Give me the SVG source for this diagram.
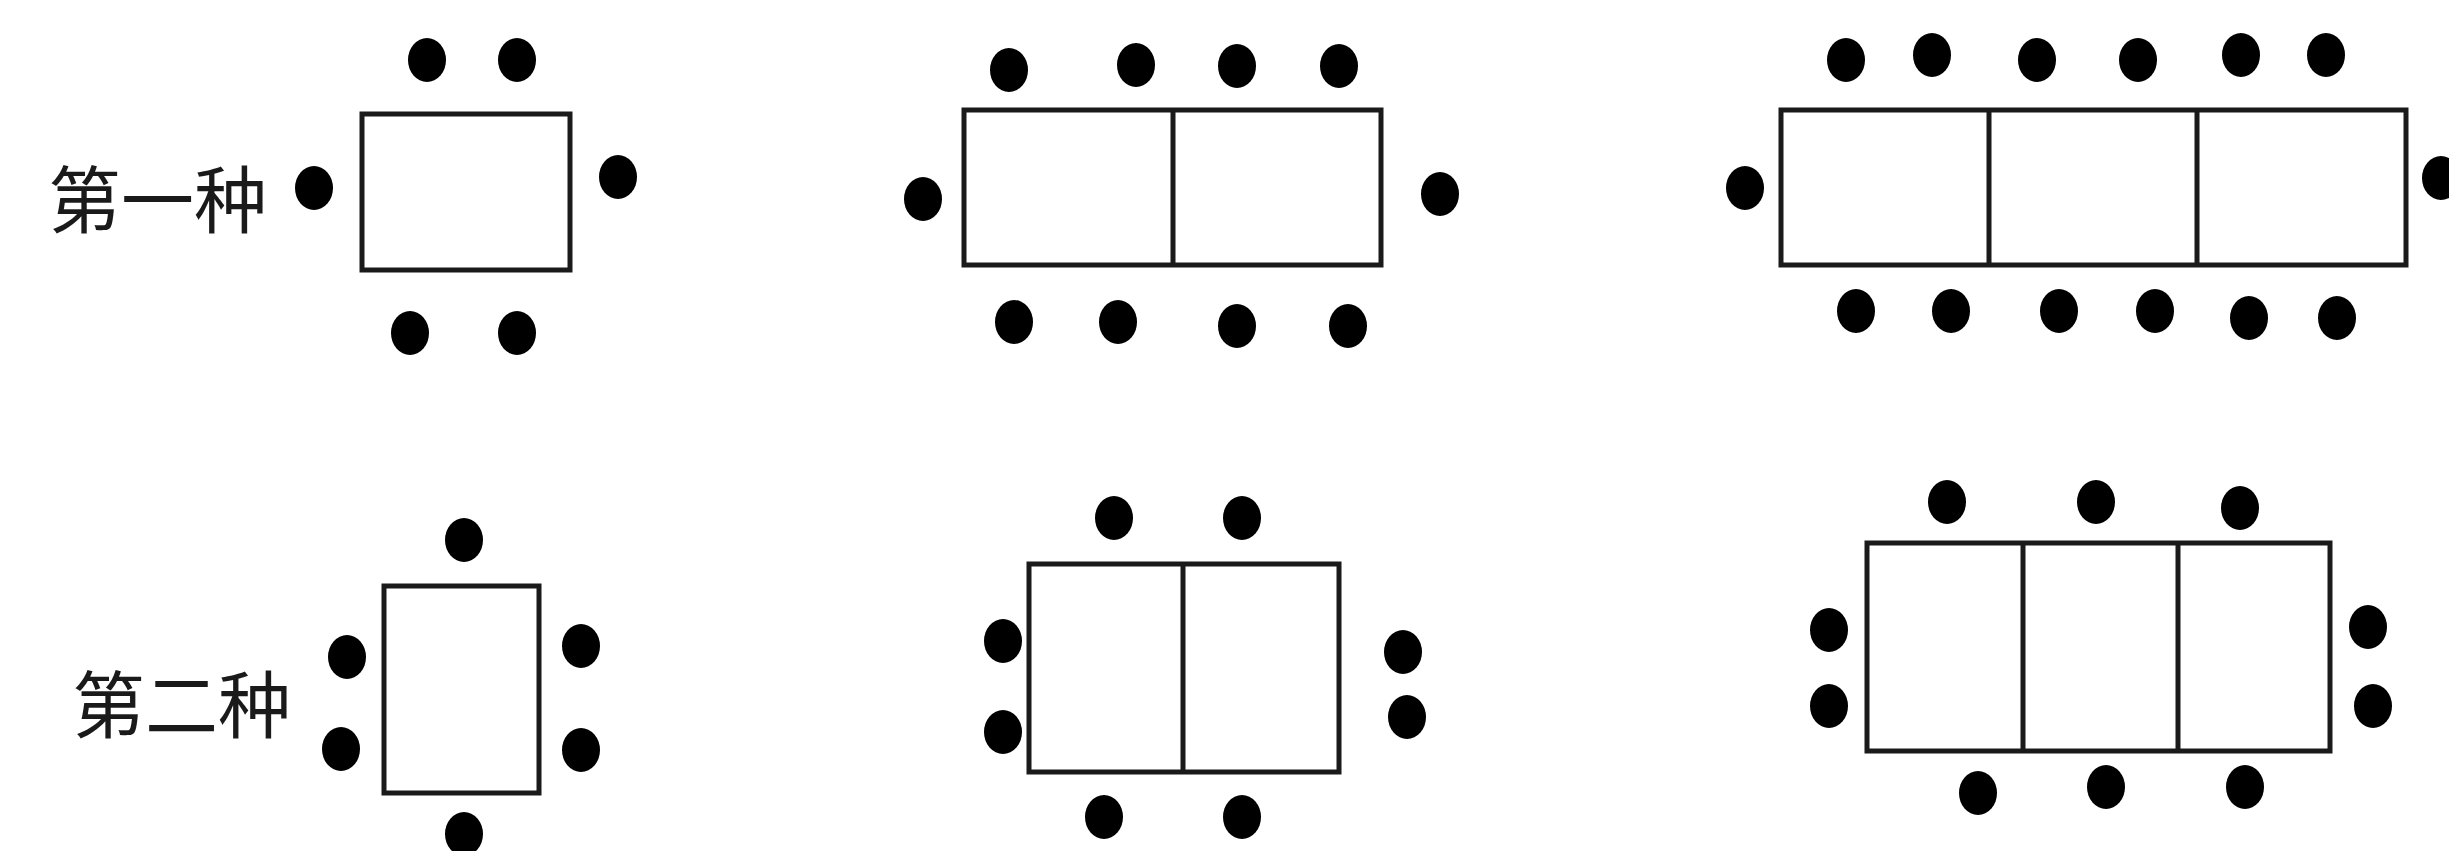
<svg xmlns="http://www.w3.org/2000/svg" width="2449" height="851" viewBox="0 0 2449 851">
<style>
.tbl{fill:#ffffff;stroke:#1a1a1a;stroke-width:5}
.div{stroke:#1a1a1a;stroke-width:5}
.seat{fill:#000000}
.lbl{font-family:"Noto Sans CJK SC","Noto Sans",sans-serif;font-size:73px;font-weight:400;fill:#1a1a1a}
</style>
<rect width="2449" height="851" fill="#ffffff"/>
<g id="label1"><text class="lbl" x="48" y="227">第一种</text></g>
<g id="label2"><text class="lbl" x="72" y="732">第二种</text></g>

<g id="table-r1-1">
<rect class="tbl" x="362" y="114" width="208" height="156"/>
<ellipse class="seat" cx="427" cy="60" rx="19" ry="22"/>
<ellipse class="seat" cx="517" cy="60" rx="19" ry="22"/>
<ellipse class="seat" cx="314" cy="188" rx="19" ry="22"/>
<ellipse class="seat" cx="618" cy="177" rx="19" ry="22"/>
<ellipse class="seat" cx="410" cy="333" rx="19" ry="22"/>
<ellipse class="seat" cx="517" cy="333" rx="19" ry="22"/>
</g>

<g id="table-r1-2">
<rect class="tbl" x="964" y="110" width="417" height="155"/>
<line class="div" x1="1173" y1="110" x2="1173" y2="265"/>
<ellipse class="seat" cx="1009" cy="70" rx="19" ry="22"/>
<ellipse class="seat" cx="1136" cy="65" rx="19" ry="22"/>
<ellipse class="seat" cx="1237" cy="66" rx="19" ry="22"/>
<ellipse class="seat" cx="1339" cy="66" rx="19" ry="22"/>
<ellipse class="seat" cx="923" cy="199" rx="19" ry="22"/>
<ellipse class="seat" cx="1440" cy="194" rx="19" ry="22"/>
<ellipse class="seat" cx="1014" cy="322" rx="19" ry="22"/>
<ellipse class="seat" cx="1118" cy="322" rx="19" ry="22"/>
<ellipse class="seat" cx="1237" cy="326" rx="19" ry="22"/>
<ellipse class="seat" cx="1348" cy="326" rx="19" ry="22"/>
</g>

<g id="table-r1-3">
<rect class="tbl" x="1781" y="110" width="625" height="155"/>
<line class="div" x1="1989" y1="110" x2="1989" y2="265"/>
<line class="div" x1="2197" y1="110" x2="2197" y2="265"/>
<ellipse class="seat" cx="1846" cy="60" rx="19" ry="22"/>
<ellipse class="seat" cx="1932" cy="55" rx="19" ry="22"/>
<ellipse class="seat" cx="2037" cy="60" rx="19" ry="22"/>
<ellipse class="seat" cx="2138" cy="60" rx="19" ry="22"/>
<ellipse class="seat" cx="2241" cy="55" rx="19" ry="22"/>
<ellipse class="seat" cx="2326" cy="55" rx="19" ry="22"/>
<ellipse class="seat" cx="1745" cy="188" rx="19" ry="22"/>
<ellipse class="seat" cx="2441" cy="178" rx="19" ry="22"/>
<ellipse class="seat" cx="1856" cy="311" rx="19" ry="22"/>
<ellipse class="seat" cx="1951" cy="311" rx="19" ry="22"/>
<ellipse class="seat" cx="2059" cy="311" rx="19" ry="22"/>
<ellipse class="seat" cx="2155" cy="311" rx="19" ry="22"/>
<ellipse class="seat" cx="2249" cy="318" rx="19" ry="22"/>
<ellipse class="seat" cx="2337" cy="318" rx="19" ry="22"/>
</g>

<g id="table-r2-1">
<rect class="tbl" x="384" y="586" width="155" height="207"/>
<ellipse class="seat" cx="464" cy="540" rx="19" ry="22"/>
<ellipse class="seat" cx="347" cy="657" rx="19" ry="22"/>
<ellipse class="seat" cx="341" cy="749" rx="19" ry="22"/>
<ellipse class="seat" cx="581" cy="646" rx="19" ry="22"/>
<ellipse class="seat" cx="581" cy="750" rx="19" ry="22"/>
<ellipse class="seat" cx="464" cy="834" rx="19" ry="22"/>
</g>

<g id="table-r2-2">
<rect class="tbl" x="1029" y="564" width="310" height="208"/>
<line class="div" x1="1183" y1="564" x2="1183" y2="772"/>
<ellipse class="seat" cx="1114" cy="518" rx="19" ry="22"/>
<ellipse class="seat" cx="1242" cy="518" rx="19" ry="22"/>
<ellipse class="seat" cx="1003" cy="641" rx="19" ry="22"/>
<ellipse class="seat" cx="1003" cy="732" rx="19" ry="22"/>
<ellipse class="seat" cx="1403" cy="652" rx="19" ry="22"/>
<ellipse class="seat" cx="1407" cy="717" rx="19" ry="22"/>
<ellipse class="seat" cx="1104" cy="817" rx="19" ry="22"/>
<ellipse class="seat" cx="1242" cy="817" rx="19" ry="22"/>
</g>

<g id="table-r2-3">
<rect class="tbl" x="1867" y="543" width="463" height="208"/>
<line class="div" x1="2023" y1="543" x2="2023" y2="751"/>
<line class="div" x1="2178" y1="543" x2="2178" y2="751"/>
<ellipse class="seat" cx="1947" cy="502" rx="19" ry="22"/>
<ellipse class="seat" cx="2096" cy="502" rx="19" ry="22"/>
<ellipse class="seat" cx="2240" cy="508" rx="19" ry="22"/>
<ellipse class="seat" cx="1829" cy="630" rx="19" ry="22"/>
<ellipse class="seat" cx="1829" cy="706" rx="19" ry="22"/>
<ellipse class="seat" cx="2368" cy="627" rx="19" ry="22"/>
<ellipse class="seat" cx="2373" cy="706" rx="19" ry="22"/>
<ellipse class="seat" cx="1978" cy="793" rx="19" ry="22"/>
<ellipse class="seat" cx="2106" cy="787" rx="19" ry="22"/>
<ellipse class="seat" cx="2245" cy="787" rx="19" ry="22"/>
</g>

<g id="connectors"></g>
</svg>
